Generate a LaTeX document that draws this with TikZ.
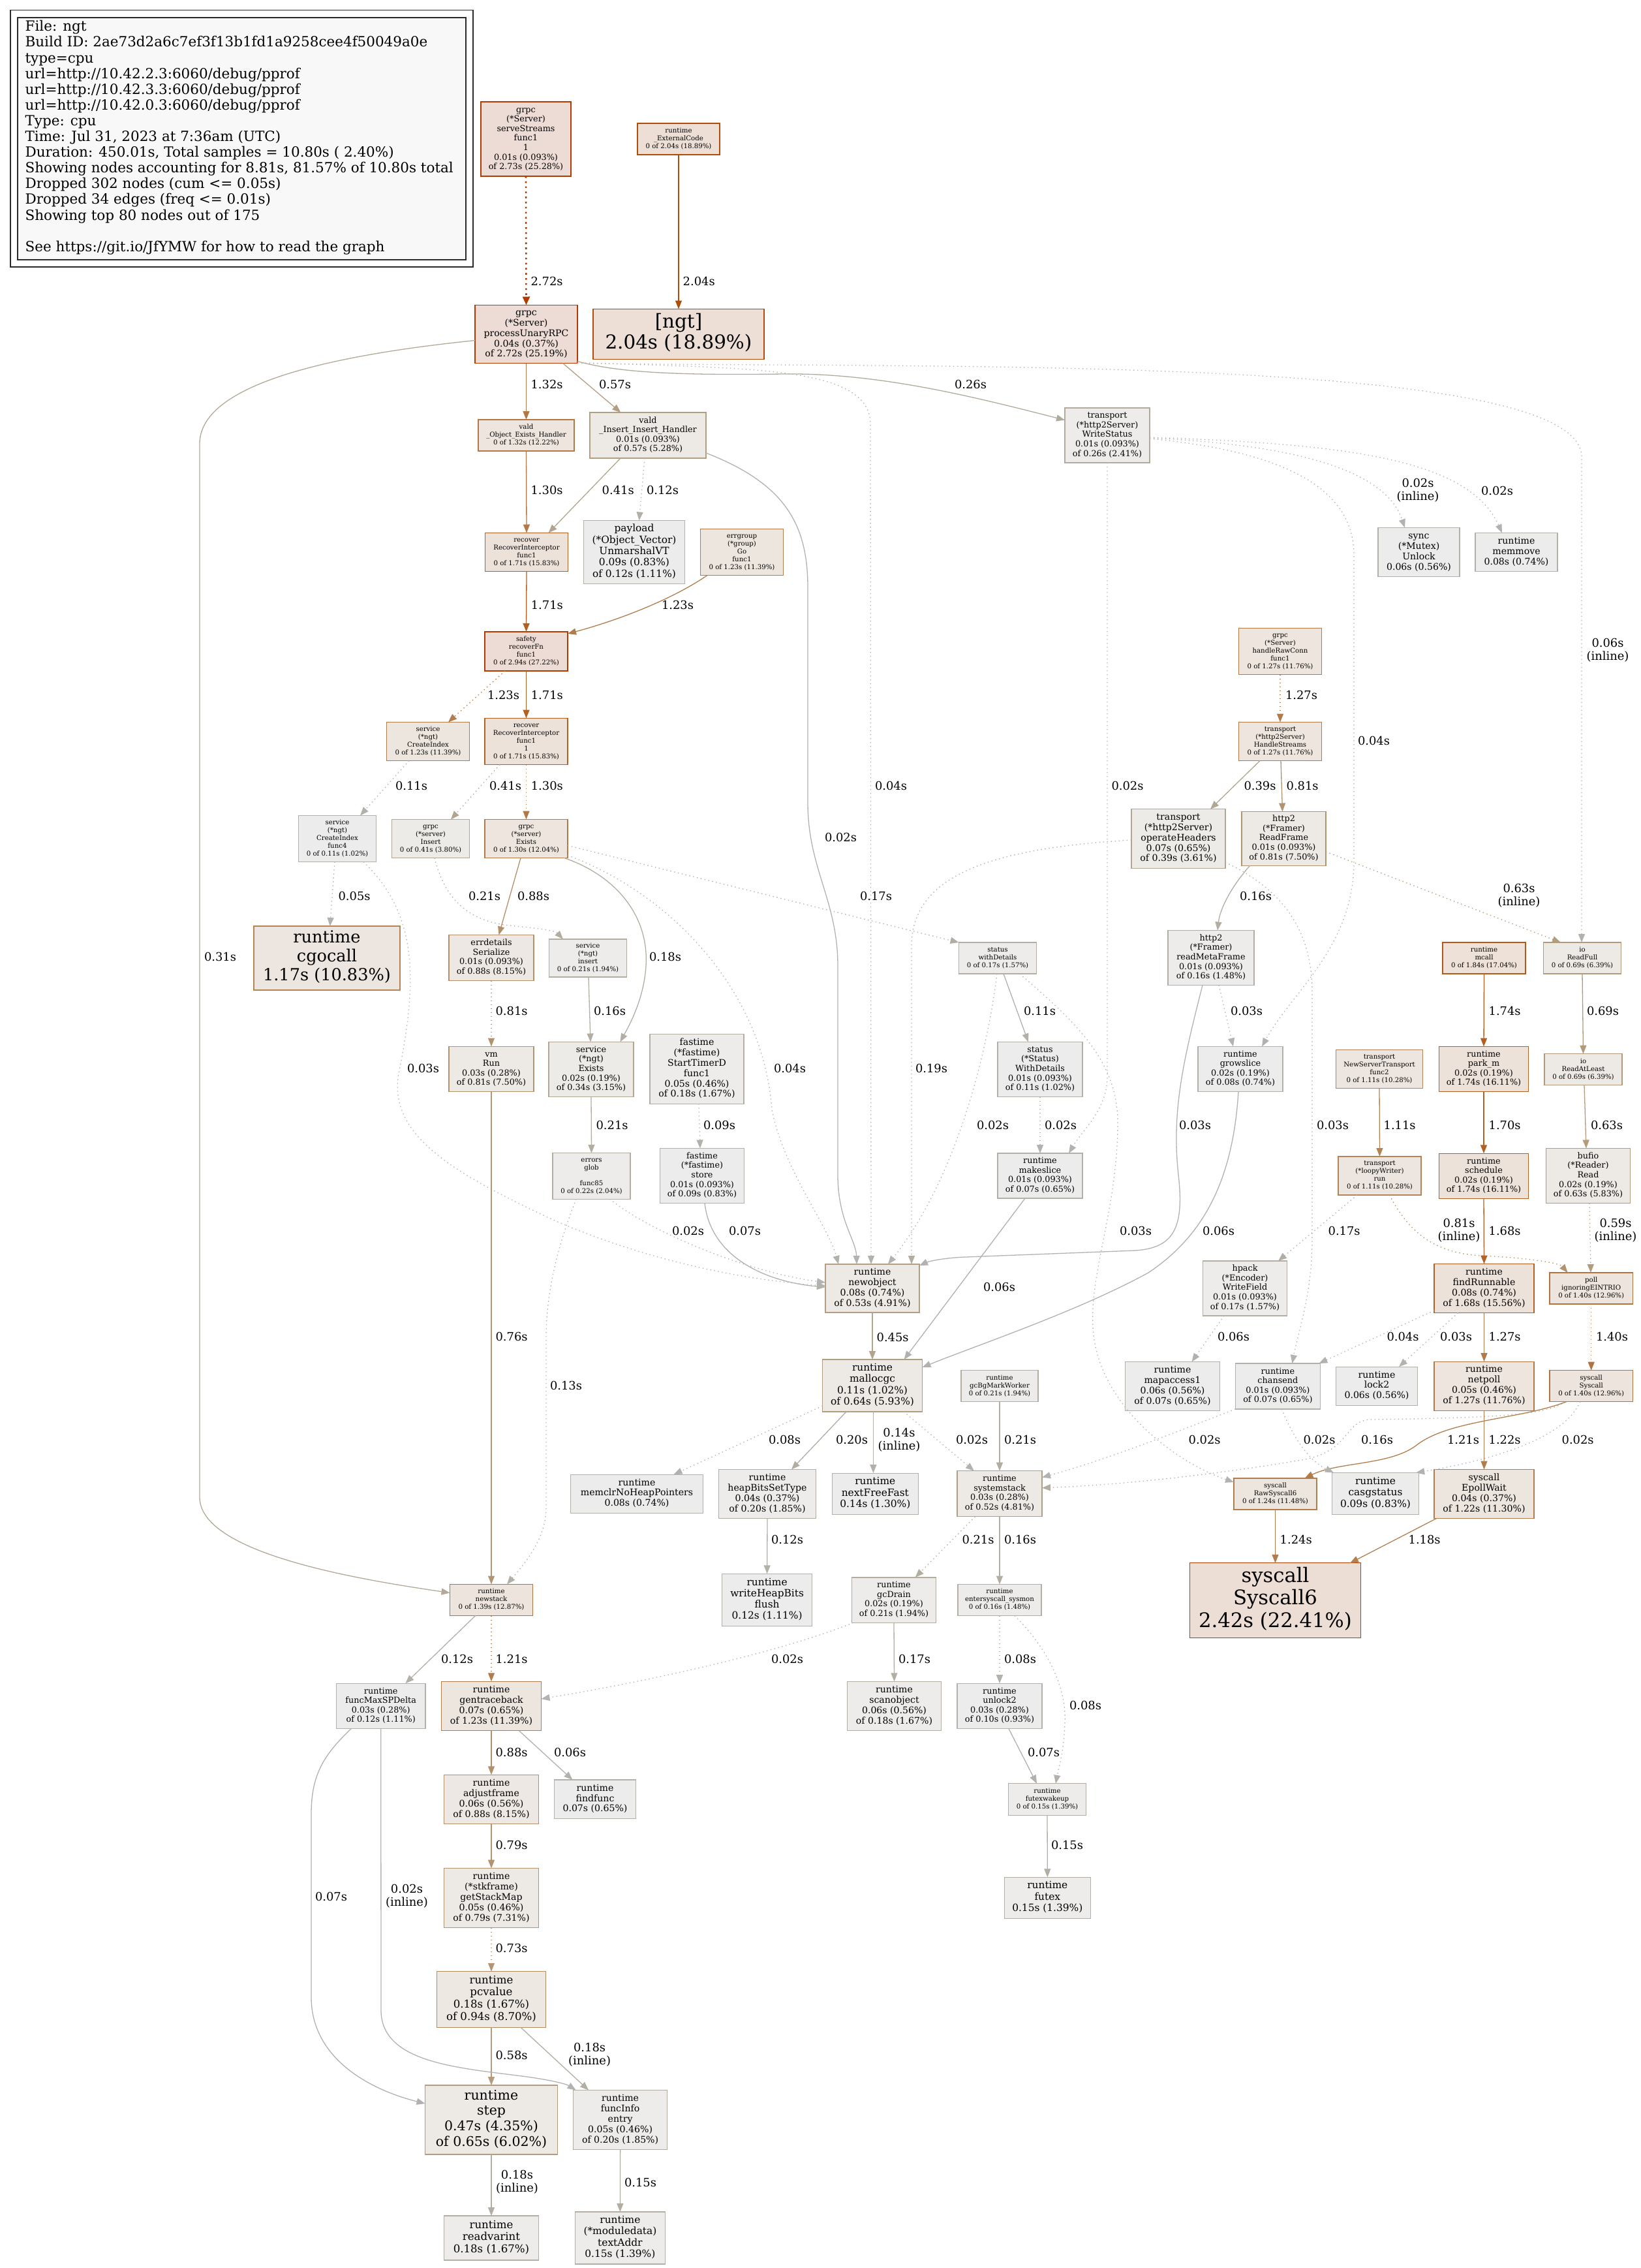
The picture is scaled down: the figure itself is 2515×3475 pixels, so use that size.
\documentclass[tikz,border=0pt]{standalone}
\usepackage{fontspec}
\setmainfont{DejaVu Serif}
\usetikzlibrary{arrows.meta,calc}
\newcommand\fsz[2]{\fontsize{#1}{#2}\selectfont}
\newcommand\tb[1]{\begin{tabular}{@{}c@{}}#1\end{tabular}}
% node colours
\definecolor{n1b}{HTML}{B23C00}\definecolor{n1f}{HTML}{EDDCD5}
\definecolor{n2b}{HTML}{B24000}\definecolor{n2f}{HTML}{EDDED5}
\definecolor{n3b}{HTML}{B24C09}\definecolor{n3f}{HTML}{EDDFD6}
\definecolor{n4b}{HTML}{B2591A}\definecolor{n4f}{HTML}{EDE1D8}
\definecolor{n5b}{HTML}{B26125}\definecolor{n5f}{HTML}{EDE2DA}
\definecolor{n6b}{HTML}{B2733E}\definecolor{n6f}{HTML}{EDE4DD}
\definecolor{n7b}{HTML}{B27845}\definecolor{n7f}{HTML}{EDE5DE}
\definecolor{n8b}{HTML}{B27D4C}\definecolor{n8f}{HTML}{EDE6DF}
\definecolor{n9b}{HTML}{B28456}\definecolor{n9f}{HTML}{EDE6E0}
\definecolor{n10b}{HTML}{B28D64}\definecolor{n10f}{HTML}{EDE8E2}
\definecolor{n11b}{HTML}{B29069}\definecolor{n11f}{HTML}{EDE8E3}
\definecolor{n12b}{HTML}{B2936F}\definecolor{n12f}{HTML}{EDE9E4}
\definecolor{n13b}{HTML}{B29979}\definecolor{n13f}{HTML}{EDE9E5}
\definecolor{n14b}{HTML}{B29C7D}\definecolor{n14f}{HTML}{EDEAE6}
\definecolor{n15b}{HTML}{B29F83}\definecolor{n15f}{HTML}{EDEAE6}
\definecolor{n16b}{HTML}{B2A692}\definecolor{n16f}{HTML}{EDEBE8}
\definecolor{n17b}{HTML}{B2AB9D}\definecolor{n17f}{HTML}{EDECEA}
\definecolor{n18b}{HTML}{B2ADA0}\definecolor{n18f}{HTML}{EDECEA}
\definecolor{n19b}{HTML}{B2AEA4}\definecolor{n19f}{HTML}{EDECEB}
\definecolor{n20b}{HTML}{B2B0A9}\definecolor{n20f}{HTML}{EDECEC}
% edge colours
\definecolor{eA}{HTML}{B23C00}\definecolor{eB}{HTML}{B24C09}
\definecolor{eC}{HTML}{B25F22}\definecolor{eD}{HTML}{B26125}
\definecolor{eE}{HTML}{B26327}\definecolor{eF}{HTML}{B2733E}
\definecolor{eG}{HTML}{B27845}\definecolor{eH}{HTML}{B27A48}
\definecolor{eI}{HTML}{B27D4C}\definecolor{eJ}{HTML}{B28051}
\definecolor{eK}{HTML}{B28456}\definecolor{eL}{HTML}{B29069}
\definecolor{eM}{HTML}{B2936F}\definecolor{eN}{HTML}{B29673}
\definecolor{eO}{HTML}{B29979}\definecolor{eP}{HTML}{B29C7D}
\definecolor{ePb}{HTML}{B29F83}\definecolor{eQ}{HTML}{B2A48D}
\definecolor{eQb}{HTML}{B2A590}\definecolor{eQc}{HTML}{B2A692}
\definecolor{eR}{HTML}{B2A998}\definecolor{eRb}{HTML}{B2AB9D}
\definecolor{eS}{HTML}{B2ADA0}\definecolor{eT}{HTML}{B2AEA4}
\definecolor{eU}{HTML}{B2B0A8}\definecolor{eV}{HTML}{B2B1AD}
\definecolor{eW}{HTML}{B2B2B0}
\definecolor{lgb}{HTML}{2A2A2A}\definecolor{lgf}{HTML}{F8F8F8}
\begin{document}
\begin{tikzpicture}[x=0.5pt,y=-0.5pt,
  every node/.style={inner sep=0pt,outer sep=0pt},
  box/.style 2 args={draw=#1,fill=#2,line width=0.6pt},
  sz/.style 2 args={minimum width=#1*0.5pt,minimum height=#2*0.5pt},
  f8/.style={font=\fsz{5.1pt}{6pt}},
  f10/.style={font=\fsz{6.4pt}{7.3pt}},
  f11/.style={font=\fsz{7.05pt}{7.95pt}},
  f12/.style={font=\fsz{7.7pt}{8.65pt}},
  f13/.style={font=\fsz{8.3pt}{9.3pt}},
  f16/.style={font=\fsz{10.25pt}{11.9pt}},
  f20/.style={font=\fsz{12.8pt}{14.55pt}},
  f23/.style={font=\fsz{14.7pt}{16.1pt}},
  f24/.style={font=\fsz{15.35pt}{17.2pt}},
  el/.style={font=\fsz{8.95pt}{10pt}},
  ed/.style={line width=0.65pt,-{Triangle[length=6.5pt,width=5pt]}},
  edw/.style={line width=1.3pt,-{Triangle[length=6.5pt,width=5.5pt]}},
  dotl/.style={dash pattern=on 0.7pt off 2.3pt},
  dotw/.style={dash pattern=on 1.3pt off 2.6pt}]
\useasboundingbox (0,0) rectangle (2515,3475);
\fill[white] (0,0) rectangle (2515,3475);

% legend
\draw[line width=0.8pt,draw=lgb] (16,15.5) rectangle (725,409);
\draw[line width=0.8pt,draw=lgb,fill=lgf] (27,27) rectangle (714,398);
\node[anchor=north west,font=\fsz{10.75pt}{12.05pt}] (legend) at (38.6,31) {\begin{tabular}{@{}l@{}}File: ngt\\Build ID: 2ae73d2a6c7ef3f13b1fd1a9258cee4f50049a0e\\type=cpu\\url=http://10.42.2.3:6060/debug/pprof\\url=http://10.42.3.3:6060/debug/pprof\\url=http://10.42.0.3:6060/debug/pprof\\Type: cpu\\Time: Jul 31, 2023 at 7:36am (UTC)\\Duration: 450.01s, Total samples = 10.80s ( 2.40\%)\\Showing nodes accounting for 8.81s, 81.57\% of 10.80s total\\Dropped 302 nodes (cum <= 0.05s)\\Dropped 34 edges (freq <= 0.01s)\\Showing top 80 nodes out of 175\\~\\See https://git.io/JfYMW for how to read the graph\end{tabular}};

% nodes
\node[box={n1b}{n1f},sz={138}{114},f10] (ss) at (806,213) {\tb{grpc\\(*Server)\\serveStreams\\func1\\1\\0.01s (0.093\%)\\of 2.73s (25.28\%)}};
\node[box={n3b}{n3f},sz={126}{48},f8] (ext) at (1040,213) {\tb{runtime\\\_ExternalCode\\0 of 2.04s (18.89\%)}};
\node[box={n3b}{n3f},sz={262}{77},f23] (ngt) at (1040,512) {\tb{{[ngt]}\\2.04s (18.89\%)}};
\node[box={n1b}{n1f},sz={157}{89},f11] (pur) at (806.5,512) {\tb{grpc\\(*Server)\\processUnaryRPC\\0.04s (0.37\%)\\of 2.72s (25.19\%)}};
\node[box={n7b}{n7f},sz={147}{48},f8] (oeh) at (806.5,667) {\tb{vald\\\_Object\_Exists\_Handler\\0 of 1.32s (12.22\%)}};
\node[box={n15b}{n15f},sz={178}{70},f10] (iih) at (993,667) {\tb{vald\\\_Insert\_Insert\_Handler\\0.01s (0.093\%)\\of 0.57s (5.28\%)}};
\node[box={n17b}{n17f},sz={130}{84},f10] (ws) at (1697,667) {\tb{transport\\(*http2Server)\\WriteStatus\\0.01s (0.093\%)\\of 0.26s (2.41\%)}};
\node[box={n20b}{n20f},sz={125}{75},f11] (unl) at (2174.5,846) {\tb{sync\\(*Mutex)\\Unlock\\0.06s (0.56\%)}};
\node[box={n20b}{n20f},sz={126}{59},f11] (mmv) at (2324,846) {\tb{runtime\\memmove\\0.08s (0.74\%)}};
\node[box={n5b}{n5f},sz={127}{59},f8] (rec1) at (807,846) {\tb{recover\\RecoverInterceptor\\func1\\0 of 1.71s (15.83\%)}};
\node[box={n20b}{n20f},sz={155}{97},f12] (pay) at (972,846) {\tb{payload\\(*Object\_Vector)\\UnmarshalVT\\0.09s (0.83\%)\\of 0.12s (1.11\%)}};
\node[box={n8b}{n8f},sz={127}{71},f8] (eg) at (1137,846) {\tb{errgroup\\(*group)\\Go\\func1\\0 of 1.23s (11.39\%)}};
\node[box={n1b}{n1f},sz={127}{60},f8] (saf) at (806.5,998) {\tb{safety\\recoverFn\\func1\\0 of 2.94s (27.22\%)}};
\node[box={n7b}{n7f},sz={127}{71},f8] (hrc) at (1962,998) {\tb{grpc\\(*Server)\\handleRawConn\\func1\\0 of 1.27s (11.76\%)}};
\node[box={n8b}{n8f},sz={126.5}{59},f8] (ci) at (656,1136) {\tb{service\\(*ngt)\\CreateIndex\\0 of 1.23s (11.39\%)}};
\node[box={n5b}{n5f},sz={127}{71},f8] (rec2) at (806.5,1136) {\tb{recover\\RecoverInterceptor\\func1\\1\\0 of 1.71s (15.83\%)}};
\node[box={n7b}{n7f},sz={127}{59},f8] (hs) at (1962,1136) {\tb{transport\\(*http2Server)\\HandleStreams\\0 of 1.27s (11.76\%)}};
\node[box={n20b}{n20f},sz={119}{71},f8] (f4) at (517,1285) {\tb{service\\(*ngt)\\CreateIndex\\func4\\0 of 0.11s (1.02\%)}};
\node[box={n16b}{n16f},sz={118.5}{59},f8] (gins) at (660,1285) {\tb{grpc\\(*server)\\Insert\\0 of 0.41s (3.80\%)}};
\node[box={n7b}{n7f},sz={127}{59},f8] (gex) at (806.5,1285) {\tb{grpc\\(*server)\\Exists\\0 of 1.30s (12.04\%)}};
\node[box={n16b}{n16f},sz={144}{90.5},f11] (oh) at (1806,1285) {\tb{transport\\(*http2Server)\\operateHeaders\\0.07s (0.65\%)\\of 0.39s (3.61\%)}};
\node[box={n12b}{n12f},sz={129}{83},f10] (rf) at (1967.5,1285) {\tb{http2\\(*Framer)\\ReadFrame\\0.01s (0.093\%)\\of 0.81s (7.50\%)}};
\node[box={n9b}{n9f},sz={224}{98},f20] (cgo) at (501,1468) {\tb{runtime\\cgocall\\1.17s (10.83\%)}};
\node[box={n11b}{n11f},sz={130}{70},f10] (ed) at (753,1467.5) {\tb{errdetails\\Serialize\\0.01s (0.093\%)\\of 0.88s (8.15\%)}};
\node[box={n18b}{n18f},sz={119.5}{58},f8] (sins) at (901,1468) {\tb{service\\(*ngt)\\insert\\0 of 0.21s (1.94\%)}};
\node[box={n19b}{n19f},sz={119}{48},f8] (wd) at (1529,1468) {\tb{status\\withDetails\\0 of 0.17s (1.57\%)}};
\node[box={n19b}{n19f},sz={132}{84},f10] (rmf) at (1856,1467.5) {\tb{http2\\(*Framer)\\readMetaFrame\\0.01s (0.093\%)\\of 0.16s (1.48\%)}};
\node[box={n4b}{n4f},sz={127}{48},f8] (mc) at (2274.5,1468) {\tb{runtime\\mcall\\0 of 1.84s (17.04\%)}};
\node[box={n13b}{n13f},sz={119}{48},f8] (rfl) at (2425,1468) {\tb{io\\ReadFull\\0 of 0.69s (6.39\%)}};
\node[box={n12b}{n12f},sz={130}{69},f10] (vm) at (753,1638) {\tb{vm\\Run\\0.03s (0.28\%)\\of 0.81s (7.50\%)}};
\node[box={n16b}{n16f},sz={130}{84},f10] (sex) at (906,1638.5) {\tb{service\\(*ngt)\\Exists\\0.02s (0.19\%)\\of 0.34s (3.15\%)}};
\node[box={n19b}{n19f},sz={144}{106.5},f11] (st) at (1068,1638) {\tb{fastime\\(*fastime)\\StartTimerD\\func1\\0.05s (0.46\%)\\of 0.18s (1.67\%)}};
\node[box={n20b}{n20f},sz={130}{84},f10] (WD) at (1594,1638.5) {\tb{status\\(*Status)\\WithDetails\\0.01s (0.093\%)\\of 0.11s (1.02\%)}};
\node[box={n20b}{n20f},sz={130}{69},f10] (gs) at (1901,1638) {\tb{runtime\\growslice\\0.02s (0.19\%)\\of 0.08s (0.74\%)}};
\node[box={n9b}{n9f},sz={133}{59},f8] (nst) at (2114,1638) {\tb{transport\\NewServerTransport\\func2\\0 of 1.11s (10.28\%)}};
\node[box={n5b}{n5f},sz={137.5}{69},f10] (pm) at (2274,1638) {\tb{runtime\\park\_m\\0.02s (0.19\%)\\of 1.74s (16.11\%)}};
\node[box={n13b}{n13f},sz={119}{48},f8] (ral) at (2426.5,1638.7) {\tb{io\\ReadAtLeast\\0 of 0.69s (6.39\%)}};
\node[box={n18b}{n18f},sz={119}{70.5},f8] (glob) at (906.5,1802) {\tb{errors\\glob\\~\\func85\\0 of 0.22s (2.04\%)}};
\node[box={n20b}{n20f},sz={129}{84},f10] (fst) at (1076,1801.5) {\tb{fastime\\(*fastime)\\store\\0.01s (0.093\%)\\of 0.09s (0.83\%)}};
\node[box={n20b}{n20f},sz={130}{69},f10] (mks) at (1594,1801.5) {\tb{runtime\\makeslice\\0.01s (0.093\%)\\of 0.07s (0.65\%)}};
\node[box={n9b}{n9f},sz={127}{59},f8] (lw) at (2114.5,1801.5) {\tb{transport\\(*loopyWriter)\\run\\0 of 1.11s (10.28\%)}};
\node[box={n5b}{n5f},sz={137.5}{69.5},f10] (sch) at (2274,1802) {\tb{runtime\\schedule\\0.02s (0.19\%)\\of 1.74s (16.11\%)}};
\node[box={n14b}{n14f},sz={129.5}{84},f10] (bur) at (2434,1801.5) {\tb{bufio\\(*Reader)\\Read\\0.02s (0.19\%)\\of 0.63s (5.83\%)}};
\node[box={n15b}{n15f},sz={144}{74},f11] (no) at (1337,1974) {\tb{runtime\\newobject\\0.08s (0.74\%)\\of 0.53s (4.91\%)}};
\node[box={n19b}{n19f},sz={128.6}{84},f10] (hp) at (1908,1974) {\tb{hpack\\(*Encoder)\\WriteField\\0.01s (0.093\%)\\of 0.17s (1.57\%)}};
\node[box={n5b}{n5f},sz={153}{75},f11] (fr) at (2274.5,1974) {\tb{runtime\\findRunnable\\0.08s (0.74\%)\\of 1.68s (15.56\%)}};
\node[box={n6b}{n6f},sz={127.5}{48},f8] (pol) at (2438.7,1974) {\tb{poll\\ignoringEINTRIO\\0 of 1.40s (12.96\%)}};
\node[box={n14b}{n14f},sz={153}{80},f12] (mgc) at (1337,2123) {\tb{runtime\\mallocgc\\0.11s (1.02\%)\\of 0.64s (5.93\%)}};
\node[box={n18b}{n18f},sz={118}{48},f8] (gcb) at (1532,2123.6) {\tb{runtime\\gcBgMarkWorker\\0 of 0.21s (1.94\%)}};
\node[box={n20b}{n20f},sz={144.6}{75},f11] (ma) at (1797,2124) {\tb{runtime\\mapaccess1\\0.06s (0.56\%)\\of 0.07s (0.65\%)}};
\node[box={n20b}{n20f},sz={130}{70},f10] (cs) at (1958.4,2124) {\tb{runtime\\chansend\\0.01s (0.093\%)\\of 0.07s (0.65\%)}};
\node[box={n20b}{n20f},sz={125}{59},f11] (lk) at (2110,2123.7) {\tb{runtime\\lock2\\0.06s (0.56\%)}};
\node[box={n7b}{n7f},sz={153}{75},f11] (np) at (2274.5,2123.6) {\tb{runtime\\netpoll\\0.05s (0.46\%)\\of 1.27s (11.76\%)}};
\node[box={n6b}{n6f},sz={127.5}{48},f8] (sys) at (2438.7,2123.6) {\tb{syscall\\Syscall\\0 of 1.40s (12.96\%)}};
\node[box={n20b}{n20f},sz={202.6}{59},f11] (mclr) at (976,2288.7) {\tb{runtime\\memclrNoHeapPointers\\0.08s (0.74\%)}};
\node[box={n18b}{n18f},sz={149}{75},f11] (hb) at (1176,2289) {\tb{runtime\\heapBitsSetType\\0.04s (0.37\%)\\of 0.20s (1.85\%)}};
\node[box={n20b}{n20f},sz={132}{63},f12] (nff) at (1341.3,2288.6) {\tb{runtime\\nextFreeFast\\0.14s (1.30\%)}};
\node[box={n15b}{n15f},sz={130}{70},f10] (sst) at (1532,2288.7) {\tb{runtime\\systemstack\\0.03s (0.28\%)\\of 0.52s (4.81\%)}};
\node[box={n8b}{n8f},sz={127}{48},f8] (raw) at (1954.5,2289) {\tb{syscall\\RawSyscall6\\0 of 1.24s (11.48\%)}};
\node[box={n20b}{n20f},sz={132.4}{64},f12] (cas) at (2108,2288.4) {\tb{runtime\\casgstatus\\0.09s (0.83\%)}};
\node[box={n8b}{n8f},sz={153}{75},f11] (ew) at (2274.5,2289) {\tb{syscall\\EpollWait\\0.04s (0.37\%)\\of 1.22s (11.30\%)}};
\node[box={n20b}{n20f},sz={138}{80.5},f12] (whb) at (1175.6,2451.5) {\tb{runtime\\writeHeapBits\\flush\\0.12s (1.11\%)}};
\node[box={n18b}{n18f},sz={129}{69.4},f10] (gcd) at (1370,2451.6) {\tb{runtime\\gcDrain\\0.02s (0.19\%)\\of 0.21s (1.94\%)}};
\node[box={n19b}{n19f},sz={128}{48},f8] (ess) at (1532,2451.5) {\tb{runtime\\entersyscall\_sysmon\\0 of 0.16s (1.48\%)}};
\node[box={n2b}{n2f},sz={262.6}{114.3},f24] (s6) at (1954.5,2452) {\tb{syscall\\Syscall6\\2.42s (22.41\%)}};
\node[box={n6b}{n6f},sz={127}{48},f8] (ns) at (753,2451.5) {\tb{runtime\\newstack\\0 of 1.39s (12.87\%)}};
\node[box={n20b}{n20f},sz={136.6}{69.6},f10] (fmsp) at (583.7,2614) {\tb{runtime\\funcMaxSPDelta\\0.03s (0.28\%)\\of 0.12s (1.11\%)}};
\node[box={n8b}{n8f},sz={153}{75.5},f11] (gt) at (753,2614) {\tb{runtime\\gentraceback\\0.07s (0.65\%)\\of 1.23s (11.39\%)}};
\node[box={n20b}{n20f},sz={125}{59.6},f11] (ff) at (912,2756.8) {\tb{runtime\\findfunc\\0.07s (0.65\%)}};
\node[box={n19b}{n19f},sz={144.6}{75.5},f11] (so) at (1370.5,2614) {\tb{runtime\\scanobject\\0.06s (0.56\%)\\of 0.18s (1.67\%)}};
\node[box={n20b}{n20f},sz={130}{69.6},f10] (ul) at (1532,2614) {\tb{runtime\\unlock2\\0.03s (0.28\%)\\of 0.10s (0.93\%)}};
\node[box={n11b}{n11f},sz={144.6}{75.5},f11] (af) at (753,2757) {\tb{runtime\\adjustframe\\0.06s (0.56\%)\\of 0.88s (8.15\%)}};
\node[box={n19b}{n19f},sz={119}{48.4},f8] (fw) at (1605,2757) {\tb{runtime\\futexwakeup\\0 of 0.15s (1.39\%)}};
\node[box={n12b}{n12f},sz={144.6}{91},f11] (gsm) at (753,2908) {\tb{runtime\\(*stkframe)\\getStackMap\\0.05s (0.46\%)\\of 0.79s (7.31\%)}};
\node[box={n19b}{n19f},sz={132}{63},f12] (fx) at (1605.3,2907.8) {\tb{runtime\\futex\\0.15s (1.39\%)}};
\node[box={n10b}{n10f},sz={166.6}{85.5},f13] (pcv) at (753,3063.5) {\tb{runtime\\pcvalue\\0.18s (1.67\%)\\of 0.94s (8.70\%)}};
\node[box={n14b}{n14f},sz={203}{106},f16] (stp) at (753,3248) {\tb{runtime\\step\\0.47s (4.35\%)\\of 0.65s (6.02\%)}};
\node[box={n18b}{n18f},sz={144}{91},f11] (fie) at (950.6,3248) {\tb{runtime\\funcInfo\\entry\\0.05s (0.46\%)\\of 0.20s (1.85\%)}};
\node[box={n19b}{n19f},sz={145}{68},f13] (rv) at (753,3429) {\tb{runtime\\readvarint\\0.18s (1.67\%)}};
\node[box={n19b}{n19f},sz={138}{80},f12] (ta) at (950.4,3429) {\tb{runtime\\(*moduledata)\\textAddr\\0.15s (1.39\%)}};

% edges
\draw[edw,dotw,color=eA] (ss.south) -- (pur.north);
\draw[ed,color=eB] (ext.south) -- (ngt.north);
\draw[ed,color=eG] (pur.south) -- (oeh.north);
\draw[ed,color=ePb] ($(pur.south)+(56,0)$) -- ($(iih.north)+(-41.6,0)$);
\draw[ed,color=eRb] ($(pur.south east)+(0,-3)$) .. controls (950,572) and (1050,575) .. (1200,573) .. controls (1350,571) and (1500,610) .. ($(ws.west)+(0,-23.4)$);
\draw[ed,color=eR] ($(pur.west)+(0,9.6)$) .. controls (500,545) and (306,590) .. (306,680) -- (306,2294) .. controls (306,2380) and (550,2420) .. ($(ns.west)+(0,-11)$);
\draw[ed,dotl,color=eV] ($(pur.south east)+(0,-1)$) .. controls (1150,565) and (1334,560) .. (1334,650) -- ($(no.north)+(-2,0)$);
\draw[ed,dotl,color=eV] (pur.south east) .. controls (1400,565) and (2424,540) .. (2424,700) -- ($(rfl.north)+(-1,0)$);
\draw[ed,color=eW] ($(iih.east)+(0,27)$) .. controls (1200,740) and (1238,800) .. (1238,900) -- (1238,1230) .. controls (1238,1330) and (1284,1380) .. (1284,1480) -- (1284,1800) .. controls (1284,1870) and (1312,1900) .. ($(no.north)+(-24,0)$);
\draw[ed,dotl,color=eS] ($(oh.west)+(0,2)$) .. controls (1520,1300) and (1397,1340) .. (1397,1450) -- ($(no.north)+(60,0)$);
\draw[ed,color=eW] ($(rmf.south)+(-13,0)$) .. controls (1815,1620) and (1795,1700) .. (1806,1800) .. controls (1815,1880) and (1800,1912) .. (1740,1916) -- (1480,1926) .. controls (1450,1927) and (1425,1932) .. ($(no.north east)+(0,2)$);
\draw[ed,dotl,color=eW] ($(oh.south east)+(0,-9)$) .. controls (1960,1360) and (2011,1420) .. (2011,1520) -- (2011,1900) .. controls (2011,1980) and (1990,2040) .. ($(cs.north)+(22,0)$);
\draw[ed,dotl,color=eW] ($(wd.south)+(34,0)$) .. controls (1640,1560) and (1713,1620) .. (1713,1720) .. controls (1713,1850) and (1670,1950) .. (1675,2033) .. controls (1680,2150) and (1800,2240) .. ($(raw.west)+(0,-18)$);
\draw[ed,dotl,color=eW] ($(wd.south)+(-1,0)$) .. controls (1515,1600) and (1470,1800) .. ($(no.north)+(24,0)$);
\draw[ed,dotl,color=eW] (WD.south) -- (mks.north);
\draw[ed,dotl,color=eW] (ws.south) -- (1697,1650) .. controls (1697,1700) and (1660,1730) .. ($(mks.north)+(44,0)$);
\draw[ed,dotl,color=eV] ($(gex.south east)+(0,-4)$) .. controls (1030,1370) and (1170,1520) .. (1183,1700) .. controls (1200,1790) and (1270,1880) .. ($(no.north)+(-52,0)$);
\draw[ed,dotl,color=eW] ($(f4.south)+(40,0)$) .. controls (640,1400) and (640,1500) .. (612,1640) .. controls (590,1740) and (700,1800) .. (850,1870) .. controls (1000,1935) and (1150,1962) .. ($(no.west)+(0,-4)$);
\draw[ed,dotl,color=eW] ($(glob.south)+(28,0)$) .. controls (1000,1890) and (1150,1950) .. ($(no.west)+(0,-9)$);
\draw[ed,color=eV] ($(fst.south)+(4,0)$) .. controls (1090,1930) and (1180,1965) .. ($(no.west)+(0,-2)$);
\draw[ed,color=eQ] (no.south) -- (mgc.north);
\draw[ed,color=eV] ($(mks.south)+(-23,0)$) -- ($(mgc.north)+(48.5,0)$);
\draw[ed,color=eV] ($(gs.south)+(-3,0)$) .. controls (1890,1800) and (1850,1890) .. (1760,1950) .. controls (1650,2010) and (1500,2060) .. ($(mgc.east)+(0,-28)$);
\draw[ed,dotl,color=eV] ($(mgc.west)+(0,31)$) -- ($(mclr.north)+(56.5,0)$);
\draw[ed,color=eS] ($(mgc.south)+(-40,0)$) -- ($(hb.north)+(37,0)$);
\draw[ed,color=eU] ($(mgc.south)+(1.4,0)$) -- ($(nff.north)+(-2.9,0)$);
\draw[ed,dotl,color=eW] ($(mgc.south)+(48,0)$) -- ($(sst.north)+(-39,0)$);
\draw[ed,color=eS] (gcb.south) -- (sst.north);
\draw[ed,dotl,color=eW] (cs.south west) .. controls (1800,2195) and (1700,2235) .. ($(sst.east)+(0,-25)$);
\draw[ed,dotl,color=eT] ($(sys.south)+(-40,0)$) .. controls (2370,2168) and (2300,2172) .. (2100,2175) .. controls (2060,2177) and (2070,2222) .. (2000,2236) .. controls (1850,2262) and (1700,2276) .. ($(sst.east)+(0,-9)$);
\draw[ed,color=eI] ($(sys.south)+(-38,0)$) .. controls (2330,2175) and (2220,2175) .. (2170,2215) .. controls (2130,2245) and (2050,2240) .. ($(raw.north)+(45,0)$);
\draw[ed,dotl,color=eW] ($(sys.south)+(-17,0)$) .. controls (2400,2200) and (2300,2235) .. ($(cas.north east)+(-4,0)$);
\draw[ed,dotl,color=eW] ($(cs.south)+(6,0)$) .. controls (1985,2210) and (2010,2240) .. ($(cas.north)+(-64,0)$);
\draw[ed,dotl,color=eV] ($(fr.west)+(0,34)$) -- ($(cs.north)+(63,0)$);
\draw[ed,dotl,color=eW] ($(fr.south)+(-40,0)$) -- ($(lk.north)+(34,0)$);
\draw[ed,color=eH] (fr.south) -- (np.north);
\draw[ed,dotl,color=eV] ($(hp.south)+(-32,0)$) -- ($(ma.north)+(29.5,0)$);
\draw[ed,dotl,color=eT] ($(lw.south)+(-34.5,0)$) -- ($(hp.north)+(51,0)$);
\draw[ed,dotl,color=eM] ($(lw.south)+(15,0)$) .. controls (2160,1890) and (2200,1920) .. (2270,1924) .. controls (2340,1927) and (2390,1935) .. ($(pol.north)+(-36,0)$);
\draw[ed,color=eE] (sch.south) -- (fr.north);
\draw[ed,dotl,color=eP] ($(bur.south)+(2,0)$) -- ($(pol.north)+(-0.7,0)$);
\draw[ed,dotl,color=eF] (pol.south) -- (sys.north);
\draw[ed,color=eI] (raw.south) -- (s6.north);
\draw[ed,color=eJ] ($(ew.south)+(-73,0)$) -- ($(s6.north)+(114.5,0)$);
\draw[ed,color=eI] (np.south) -- (ew.north);
\draw[ed,color=eC] (mc.south) -- (pm.north);
\draw[ed,color=eD] (pm.south) -- (sch.north);
\draw[ed,color=eK] (nst.south) -- (lw.north);
\draw[ed,color=eO] (rfl.south) -- (ral.north);
\draw[ed,color=eP] ($(ral.south)+(1.5,0)$) -- ($(bur.north)+(-3,0)$);
\draw[ed,dotl,color=eP] ($(rf.east)+(0,20)$) -- ($(rfl.north)+(-33,0)$);
\draw[ed,color=eQc] ($(hs.south)+(-31,0)$) -- ($(oh.north)+(49,0)$);
\draw[ed,color=eM] ($(hs.south)+(1,0)$) -- ($(rf.north)+(-2,0)$);
\draw[ed,dotl,color=eH] (hrc.south) -- (hs.north);
\draw[ed,color=eT] ($(rf.south)+(-52,0)$) .. controls (1890,1355) and (1870,1390) .. ($(rmf.north)+(10,0)$);
\draw[ed,dotl,color=eW] ($(rmf.south)+(12,0)$) -- ($(gs.north)+(-11,0)$);
\draw[ed,dotl,color=eV] ($(ws.east)+(0,5)$) .. controls (1950,690) and (2075,740) .. (2075,850) -- (2075,1320) .. controls (2075,1450) and (1980,1520) .. ($(gs.north)+(33,0)$);
\draw[ed,dotl,color=eW] ($(ws.east)+(0,4)$) .. controls (1950,680) and (2120,710) .. ($(unl.north)+(-21.5,0)$);
\draw[ed,dotl,color=eW] ($(ws.east)+(0,3)$) .. controls (2050,680) and (2250,700) .. ($(mmv.north)+(-22,0)$);
\draw[ed,color=eG] (oeh.south) -- (rec1.north);
\draw[ed,color=eQb] ($(iih.south)+(-42,0)$) -- ($(rec1.north)+(33.6,0)$);
\draw[ed,dotl,color=eU] ($(iih.south)+(-5,0)$) -- ($(pay.north)+(7.5,0)$);
\draw[ed,color=eD] (rec1.south) -- (saf.north);
\draw[ed,color=eI] ($(eg.south)+(-53,0)$) .. controls (1020,925) and (930,955) .. ($(saf.east)+(0,-27)$);
\draw[ed,dotl,color=eI] ($(saf.south)+(-32.5,0)$) -- ($(ci.north)+(31,0)$);
\draw[ed,color=eD] (saf.south) -- (rec2.north);
\draw[ed,dotl,color=eU] ($(ci.south)+(-29,0)$) -- ($(f4.north)+(35,0)$);
\draw[ed,dotl,color=eQb] ($(rec2.south)+(-40.5,0)$) -- ($(gins.north)+(31,0)$);
\draw[ed,dotl,color=eG] (rec2.south) -- (gex.north);
\draw[ed,dotl,color=eV] ($(f4.south)+(-4,0)$) -- ($(cgo.north)+(4.7,0)$);
\draw[ed,dotl,color=eS] ($(gins.south)+(6,0)$) .. controls (680,1370) and (710,1410) .. (780,1418) .. controls (820,1422) and (850,1425) .. ($(sins.north)+(-38,0)$);
\draw[ed,color=eL] ($(gex.south)+(-8.5,0)$) -- ($(ed.north)+(11.5,0)$);
\draw[ed,color=eT] ($(gex.south)+(58,0)$) .. controls (940,1340) and (995,1400) .. (990,1480) .. controls (987,1530) and (965,1570) .. ($(sex.north)+(44.4,0)$);
\draw[ed,dotl,color=eT] ($(gex.east)+(0,10.5)$) -- (wd.north west);
\draw[ed,color=eT] ($(sins.south)+(1,0)$) -- ($(sex.north)+(-1,0)$);
\draw[ed,dotl,color=eM] (ed.south) -- (vm.north);
\draw[ed,color=eN] (vm.south) -- (ns.north);
\draw[ed,dotl,color=eU] ($(glob.south)+(-23.5,0)$) .. controls (850,1920) and (837,1990) .. (837,2050) -- (837,2310) .. controls (837,2360) and (800,2400) .. ($(ns.north)+(24,0)$);
\draw[ed,color=eS] (sex.south) -- (glob.north);
\draw[ed,dotl,color=eU] ($(st.south)+(3,0)$) -- ($(fst.north)+(-3,0)$);
\draw[ed,color=eU] ($(wd.south)+(9,0)$) -- ($(WD.north)+(-18,0)$);
\draw[ed,color=eU] ($(ns.south)+(-24.4,0)$) -- ($(fmsp.north)+(37.7,0)$);
\draw[ed,dotl,color=eI] (ns.south) -- (gt.north);
\draw[ed,dotl,color=eW] ($(gcd.south west)+(2,0)$) .. controls (1200,2530) and (1000,2575) .. ($(gt.east)+(0,-11)$);
\draw[ed,dotl,color=eS] ($(sst.south)+(-37.5,0)$) -- ($(gcd.north)+(32.7,0)$);
\draw[ed,color=eT] (sst.south) -- (ess.north);
\draw[ed,color=eT] (gcd.south) -- (so.north);
\draw[ed,dotl,color=eV] (ess.south) -- (ul.north);
\draw[ed,dotl,color=eV] ($(ess.south)+(23,0)$) .. controls (1600,2520) and (1635,2580) .. (1632,2640) .. controls (1630,2690) and (1622,2710) .. ($(fw.north)+(13,0)$);
\draw[ed,color=eV] ($(ul.south)+(14,0)$) -- ($(fw.north)+(-16,0)$);
\draw[ed,color=eT] (fw.south) -- (fx.north);
\draw[ed,color=eL] (gt.south) -- (af.north);
\draw[ed,color=eV] ($(gt.south)+(42.5,0)$) -- ($(ff.north)+(-34.5,0)$);
\draw[ed,color=eM] (af.south) -- (gsm.north);
\draw[ed,dotl,color=eN] (gsm.south) -- (pcv.north);
\draw[ed,color=eP] (pcv.south) -- (stp.north);
\draw[ed,color=eT] ($(pcv.south)+(45,0)$) -- ($(fie.north)+(-48.6,0)$);
\draw[ed,color=eV] ($(fmsp.south)+(-45.7,0)$) .. controls (495,2690) and (477,2720) .. (477,2780) -- (477,3060) .. controls (477,3150) and (560,3200) .. ($(stp.west)+(0,-25)$);
\draw[ed,color=eW] (fmsp.south) -- (584,3080) .. controls (584,3160) and (700,3168) .. (800,3181) .. controls (840,3186) and (868,3193) .. ($(fie.north west)+(4,0)$);
\draw[ed,color=eT] (stp.south) -- (rv.north);
\draw[ed,color=eT] (fie.south) -- (ta.north);
\draw[ed,color=eU] (hb.south) -- (whb.north);

% edge labels
\node[el,anchor=west] (l1) at (813.6,431) {2.72s};
\node[el,anchor=west] (l2) at (1046.7,431) {2.04s};
\node[el,anchor=west] (l3) at (813.6,589) {1.32s};
\node[el,anchor=west] (l4) at (918,589) {0.57s};
\node[el,anchor=west] (l5) at (1463,589) {0.26s};
\node[el,anchor=west] (l6) at (313,1466) {0.31s};
\node[el,anchor=west] (l7) at (1341,1204) {0.04s};
\node[el] (l8) at (2464,997) {\tb{0.06s\\(inline)}};
\node[el,anchor=west] (l9) at (1264,1283) {0.02s};
\node[el,anchor=west] (l10) at (1403,1637) {0.19s};
\node[el,anchor=west] (l11) at (1807,1724) {0.03s};
\node[el,anchor=west] (l12) at (2018,1724) {0.03s};
\node[el,anchor=west] (l13) at (1716,1886) {0.03s};
\node[el,anchor=west] (l14) at (1497,1724) {0.02s};
\node[el,anchor=west] (l15) at (1601,1724) {0.02s};
\node[el,anchor=west] (l16) at (1703.5,1204) {0.02s};
\node[el,anchor=west] (l17) at (1186,1637) {0.04s};
\node[el,anchor=west] (l18) at (624,1637) {0.03s};
\node[el,anchor=west] (l19) at (1030,1886) {0.02s};
\node[el,anchor=west] (l20) at (1117,1886) {0.07s};
\node[el,anchor=west] (l21) at (1343.6,2048.5) {0.45s};
\node[el,anchor=west] (l22) at (1507,1972) {0.06s};
\node[el,anchor=west] (l23) at (1843,1886) {0.06s};
\node[el,anchor=west] (l24) at (1178,2206) {0.08s};
\node[el,anchor=west] (l25) at (1281,2206) {0.20s};
\node[el] (l26) at (1378,2207) {\tb{0.14s\\(inline)}};
\node[el,anchor=west] (l27) at (1465,2206) {0.02s};
\node[el,anchor=west] (l28) at (1539,2206) {0.21s};
\node[el,anchor=west] (l29) at (1821.6,2206) {0.02s};
\node[el,anchor=west] (l30) at (1997.5,2206) {0.02s};
\node[el,anchor=west] (l31) at (2086,2206) {0.16s};
\node[el,anchor=west] (l32) at (2218,2206) {1.21s};
\node[el,anchor=west] (l33) at (2281.6,2206) {1.22s};
\node[el,anchor=west] (l34) at (2393.6,2206) {0.02s};
\node[el,anchor=west] (l35) at (2125.5,2048) {0.04s};
\node[el,anchor=west] (l36) at (2207,2048) {0.03s};
\node[el,anchor=west] (l37) at (2281.6,2048) {1.27s};
\node[el,anchor=west] (l38) at (1866,2048) {0.06s};
\node[el,anchor=west] (l39) at (2035.6,1886) {0.17s};
\node[el] (l40) at (2236,1886) {\tb{0.81s\\(inline)}};
\node[el,anchor=west] (l41) at (2281.6,1886) {1.68s};
\node[el] (l42) at (2476,1886) {\tb{0.59s\\(inline)}};
\node[el,anchor=west] (l43) at (2446,2048) {1.40s};
\node[el,anchor=west] (l44) at (1961.7,2359) {1.24s};
\node[el,anchor=west] (l45) at (2158.6,2359) {1.18s};
\node[el,anchor=west] (l46) at (2281.6,1549) {1.74s};
\node[el,anchor=west] (l47) at (2281.6,1724) {1.70s};
\node[el,anchor=west] (l48) at (2120.6,1724) {1.11s};
\node[el,anchor=west] (l49) at (2432,1549) {0.69s};
\node[el,anchor=west] (l50) at (2438,1724) {0.63s};
\node[el] (l51) at (2328,1373) {\tb{0.63s\\(inline)}};
\node[el,anchor=west] (l52) at (1906.5,1204) {0.39s};
\node[el,anchor=west] (l53) at (1971.6,1204) {0.81s};
\node[el,anchor=west] (l54) at (1970,1065) {1.27s};
\node[el,anchor=west] (l55) at (1900,1373) {0.16s};
\node[el,anchor=west] (l56) at (1886,1549) {0.03s};
\node[el,anchor=west] (l57) at (2081,1135) {0.04s};
\node[el] (l58) at (2173,752) {\tb{0.02s\\(inline)}};
\node[el,anchor=west] (l59) at (2270,752) {0.02s};
\node[el,anchor=west] (l60) at (813.6,751) {1.30s};
\node[el,anchor=west] (l61) at (922.7,751) {0.41s};
\node[el,anchor=west] (l62) at (991,751) {0.12s};
\node[el,anchor=west] (l63) at (813.8,927) {1.71s};
\node[el,anchor=west] (l64) at (1014,927) {1.23s};
\node[el,anchor=west] (l65) at (747,1065) {1.23s};
\node[el,anchor=west] (l66) at (813.8,1065) {1.71s};
\node[el,anchor=west] (l67) at (606,1204) {0.11s};
\node[el,anchor=west] (l68) at (750,1204) {0.41s};
\node[el,anchor=west] (l69) at (813.8,1204) {1.30s};
\node[el,anchor=west] (l70) at (518.6,1373) {0.05s};
\node[el,anchor=west] (l71) at (718,1373) {0.21s};
\node[el,anchor=west] (l72) at (793,1373) {0.88s};
\node[el,anchor=west] (l73) at (995,1466) {0.18s};
\node[el,anchor=west] (l74) at (1318,1373) {0.17s};
\node[el,anchor=west] (l75) at (910,1549) {0.16s};
\node[el,anchor=west] (l76) at (759.6,1549) {0.81s};
\node[el,anchor=west] (l77) at (759.6,2048) {0.76s};
\node[el,anchor=west] (l78) at (843,2123) {0.13s};
\node[el,anchor=west] (l79) at (913.6,1724) {0.21s};
\node[el,anchor=west] (l80) at (1078,1724) {0.09s};
\node[el,anchor=west] (l81) at (1569,1549) {0.11s};
\node[el,anchor=west] (l82) at (676,2542) {0.12s};
\node[el,anchor=west] (l83) at (759.6,2542) {1.21s};
\node[el,anchor=west] (l84) at (1182,2542) {0.02s};
\node[el,anchor=west] (l85) at (1474.5,2359) {0.21s};
\node[el,anchor=west] (l86) at (1539,2359) {0.16s};
\node[el,anchor=west] (l87) at (1377,2542) {0.17s};
\node[el,anchor=west] (l88) at (1539,2542) {0.08s};
\node[el,anchor=west] (l89) at (1639,2613) {0.08s};
\node[el,anchor=west] (l90) at (1575,2684.5) {0.07s};
\node[el,anchor=west] (l91) at (1611,2827) {0.15s};
\node[el,anchor=west] (l92) at (759.6,2684.5) {0.88s};
\node[el,anchor=west] (l93) at (849,2684.5) {0.06s};
\node[el,anchor=west] (l94) at (759.6,2827) {0.79s};
\node[el,anchor=west] (l95) at (759.6,2985) {0.73s};
\node[el,anchor=west] (l96) at (759.6,3149) {0.58s};
\node[el] (l97) at (903.6,3149) {\tb{0.18s\\(inline)}};
\node[el,anchor=west] (l98) at (483,2906) {0.07s};
\node[el] (l99) at (623.5,2906) {\tb{0.02s\\(inline)}};
\node[el] (l100) at (792.5,3344) {\tb{0.18s\\(inline)}};
\node[el,anchor=west] (l101) at (957,3343.5) {0.15s};
\node[el,anchor=west] (l102) at (1182,2359) {0.12s};
\end{tikzpicture}
\end{document}
